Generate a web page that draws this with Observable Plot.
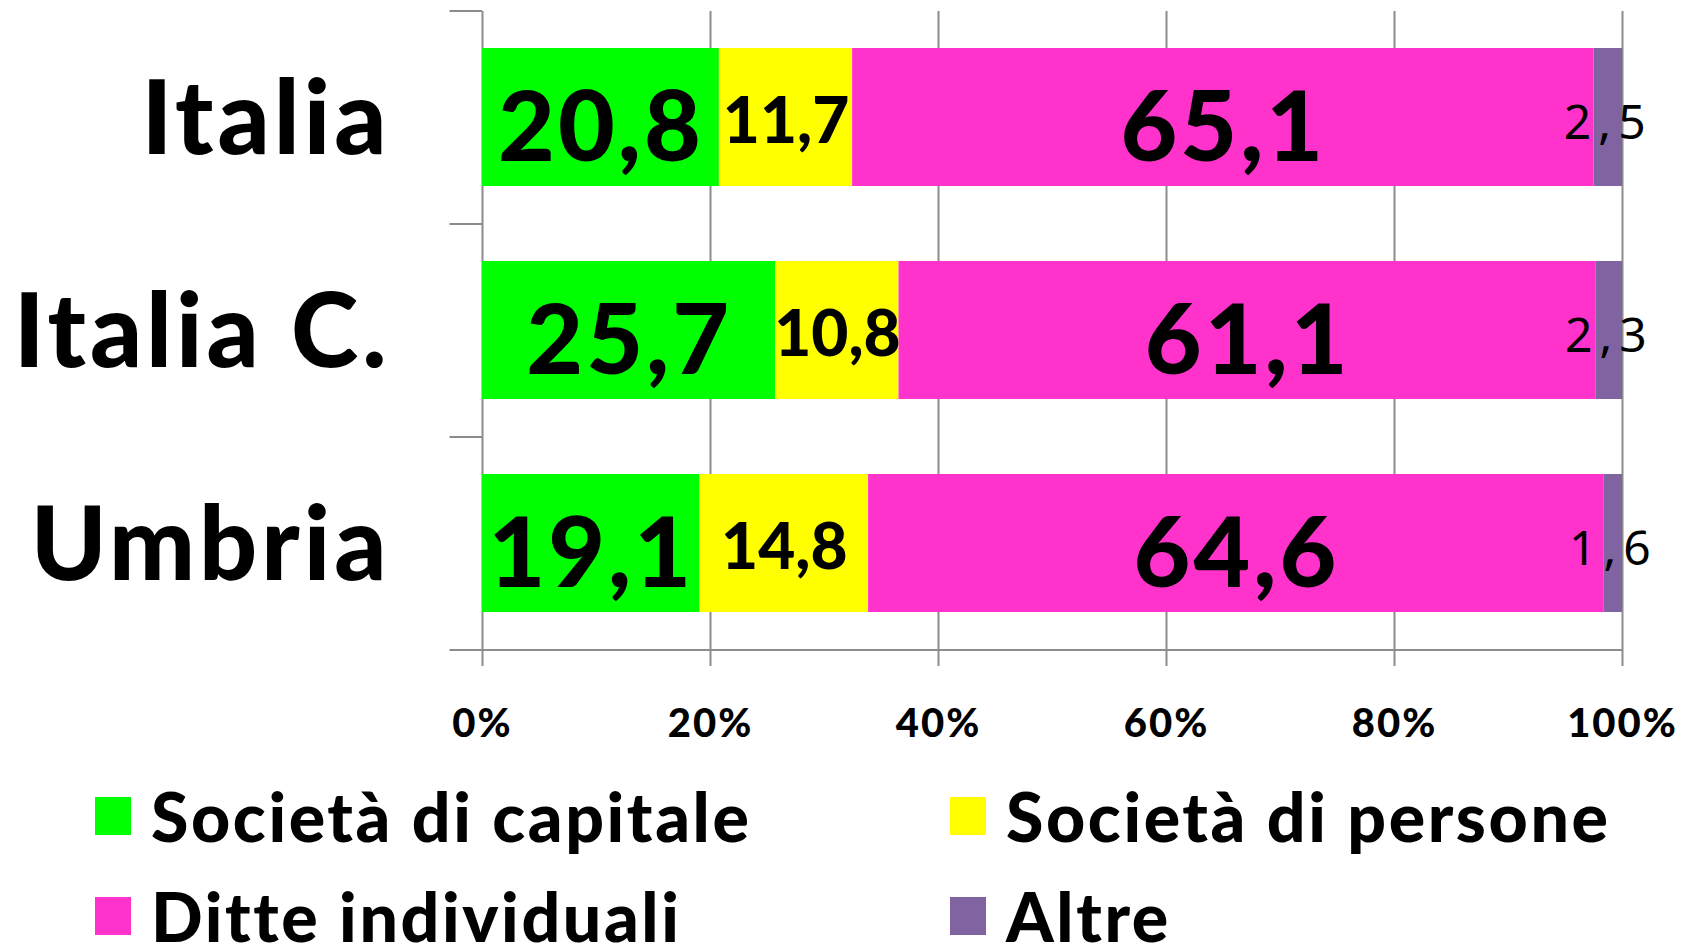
<!DOCTYPE html>
<html><head><meta charset="utf-8">
<script src="https://cdn.jsdelivr.net/npm/d3@7"></script>
<script src="https://cdn.jsdelivr.net/npm/@observablehq/plot@0.6"></script>
<style>
body{margin:0;background:#fff;font-family:Lato,"DejaVu Sans",sans-serif;}
#chart{width:1696px;height:944px;position:relative;overflow:hidden;background:#fff}
#legend{position:absolute;left:0;top:770px;width:1696px;height:174px}
.item{position:absolute;height:56px;display:flex;align-items:center}
.sw{width:36px;height:38px;margin-right:20px;flex:none}
.lab{font-family:Lato,"DejaVu Sans",sans-serif;font-weight:900;font-size:68px;line-height:56px;letter-spacing:2.6px;color:#000;white-space:nowrap}
</style></head><body><div id="chart"></div>
<script>
const regions = ["Italia", "Italia C.", "Umbria"];
const series = ["Società di capitale", "Società di persone", "Ditte individuali", "Altre"];
const colors = ["#00ff00", "#ffff00", "#ff33cc", "#8064a2"];
const capitale = [20.8, 25.7, 19.1];
const persone = [11.7, 10.8, 14.8];
const ditte = [65.1, 61.1, 64.6];
const altre = [2.5, 2.3, 1.6];
const xTicks = [0, 0.2, 0.4, 0.6, 0.8, 1];

const values = [capitale, persone, ditte, altre];
const data = [];
regions.forEach((r, i) => series.forEach((s, j) => data.push({region: r, series: s, idx: j, value: values[j][i]})));

const it = d3.formatLocale({decimal: ",", thousands: ".", grouping: [3], currency: ["€", ""]});
const fmt = it.format(".1f");
const pct = d3.format(".0%");
const grid = "#8c8c8c";
const font = "Lato, 'DejaVu Sans', sans-serif";
const half = 106.5;

const stackOpts = (extra) => Plot.stackX({offset: "normalize", x: "value", y: "region", z: "series", ...extra});

const chart = Plot.plot({
  width: 1696, height: 770,
  marginLeft: 482, marginRight: 74, marginTop: 11, marginBottom: 120,
  style: {fontFamily: font, background: "white", overflow: "visible", color: "black"},
  x: {domain: [0, 1]},
  y: {domain: regions, paddingInner: 0.35, paddingOuter: 0.175},
  color: {domain: series, range: colors},
  marks: [
    Plot.ruleX(xTicks, {x: d => d, stroke: grid, strokeWidth: 2, strokeOpacity: 1, insetBottom: -16}),
    Plot.ruleY(regions, {y: d => d, x1: -0.0285, x2: 0, dy: -half, stroke: grid, strokeWidth: 2, strokeOpacity: 1}),
    Plot.ruleY([regions[regions.length - 1]], {y: d => d, x1: -0.0285, x2: 1, dy: half, stroke: grid, strokeWidth: 2, strokeOpacity: 1}),
    Plot.barX(data, stackOpts({fill: "series"})),
    Plot.text(data, stackOpts({text: d => (d.idx === 0 || d.idx === 2) ? fmt(d.value) : "", fontSize: 98, fontWeight: 900, fill: "black", dy: 12})),
    Plot.text(data, stackOpts({text: d => d.idx === 1 ? fmt(d.value) : "", fontSize: 64, fontWeight: 900, fill: "black", dy: 5})),
    Plot.text(data, stackOpts({text: d => d.idx === 3 ? fmt(d.value) : "", fontSize: 48, fontWeight: 400, fill: "black", dy: 6, fontFamily: "'Noto Sans', sans-serif"})),
    Plot.axisY({tickSize: 0, tickPadding: 92, fontSize: 102, fontWeight: 900, dy: 4, label: null}),
    Plot.axisX({ticks: xTicks, tickFormat: pct, tickSize: 0, tickPadding: 74, fontSize: 40, fontWeight: 900, lineAnchor: "middle", label: null})
  ]
});
chart.style.position = "absolute";
chart.style.left = "0px";
chart.style.top = "0px";
// letter spacing tweaks (styles only)
d3.select(chart).selectAll("g[aria-label='y-axis tick label']").style("letter-spacing", "4px");
d3.select(chart).selectAll("g[aria-label='x-axis tick label']").style("letter-spacing", "2px");
d3.select(chart).selectAll("g[aria-label='text']").each(function() {
  const fs = +this.getAttribute("font-size");
  if (fs === 98) this.style.letterSpacing = "3px";
  if (fs === 48) this.style.letterSpacing = "7px";
});
const root = document.getElementById("chart");
root.appendChild(chart);

const legend = document.createElement("div");
legend.id = "legend";
const pos = [[95, 18], [950, 18], [95, 118], [950, 118]];
series.forEach((s, j) => {
  const item = document.createElement("div");
  item.className = "item";
  item.style.left = pos[j][0] + "px";
  item.style.top = pos[j][1] + "px";
  const sw = document.createElement("div");
  sw.className = "sw";
  sw.style.background = colors[j];
  const lab = document.createElement("span");
  lab.className = "lab";
  lab.textContent = s;
  item.appendChild(sw);
  item.appendChild(lab);
  legend.appendChild(item);
});
root.appendChild(legend);
</script></body></html>
